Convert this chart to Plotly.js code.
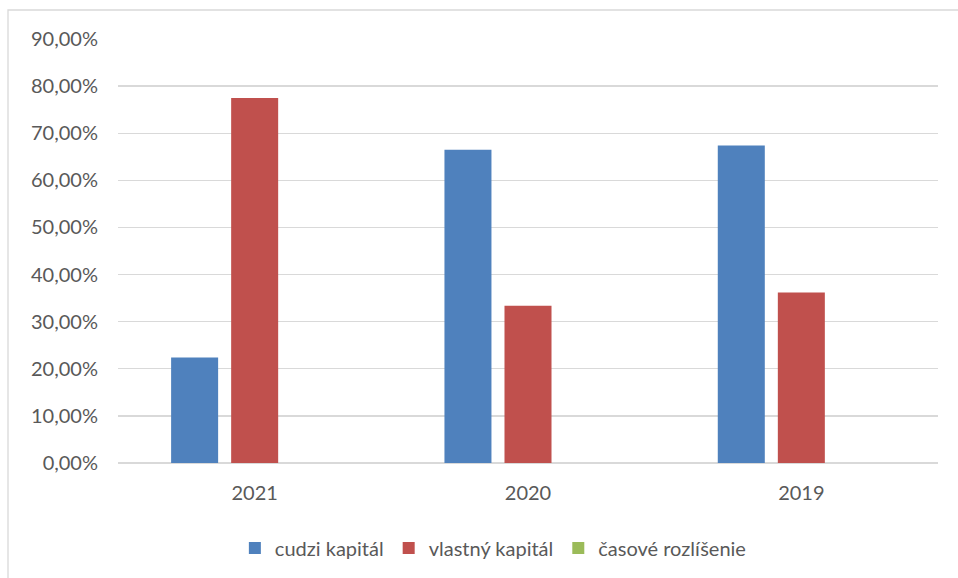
<!DOCTYPE html>
<html>
<head>
<meta charset="utf-8">
<script src="https://cdn.plot.ly/plotly-3.0.1.min.js"></script>
<style>html,body{margin:0;padding:0;background:#fff;}#chart{width:958px;height:578px;}</style>
</head>
<body>
<div id="chart"></div>
<script>
const categories = ['2021', '2020', '2019'];
const cudziKapital = [0.224, 0.665, 0.674];
const vlastnyKapital = [0.775, 0.334, 0.362];
const casoveRozlisenie = [0, 0, 0];
const seriesNames = ['cudzi kapitál', 'vlastný kapitál', 'časové rozlíšenie'];
const seriesColors = ['#4F81BD', '#C0504D', '#9BBB59'];
const seriesValues = [cudziKapital, vlastnyKapital, casoveRozlisenie];

const traces = seriesValues.map((vals, i) => ({
  type: 'bar',
  name: seriesNames[i],
  x: categories,
  y: vals,
  marker: {color: seriesColors[i], line: {color: seriesColors[i], width: 0}},
  hoverinfo: 'none'
}));

const font = {family: 'Lato, "Open Sans", sans-serif', size: 20, color: '#595959'};

const layout = {
  width: 958, height: 578,
  margin: {l: 118, r: 20, t: 39, b: 115, autoexpand: false},
  paper_bgcolor: '#fff', plot_bgcolor: '#fff',
  barmode: 'group', bargap: 0.341, bargroupgap: 0.217,
  font: font,
  xaxis: {type: 'category', showgrid: false, zeroline: false, showline: false,
          ticks: '', tickfont: font, ticklabelstandoff: 16, automargin: false},
  yaxis: {range: [0, 0.9], dtick: 0.1, tick0: 0, tickformat: '.2%',
          showgrid: true, gridcolor: '#D9D9D9', gridwidth: 1.3, zeroline: true,
          zerolinecolor: '#D9D9D9', zerolinewidth: 1.3, showline: false, ticks: '',
          tickfont: font, ticklabelstandoff: 19, automargin: false},
  separators: ',.',
  showlegend: true,
  legend: {orientation: 'h', x: 0.515, xref: 'container', xanchor: 'center',
           y: 30/578, yref: 'container', yanchor: 'middle',
           font: font, traceorder: 'normal', itemsizing: 'constant', itemwidth: 30},
  shapes: [{type: 'rect', xref: 'paper', yref: 'paper',
            x0: -110/820, x1: 1.1, y0: -0.4, y1: 1 + 29/424,
            line: {color: '#D9D9D9', width: 1.3}, fillcolor: 'rgba(0,0,0,0)', layer: 'below'}]
};

Plotly.newPlot('chart', traces, layout, {staticPlot: true});
</script>
</body>
</html>
